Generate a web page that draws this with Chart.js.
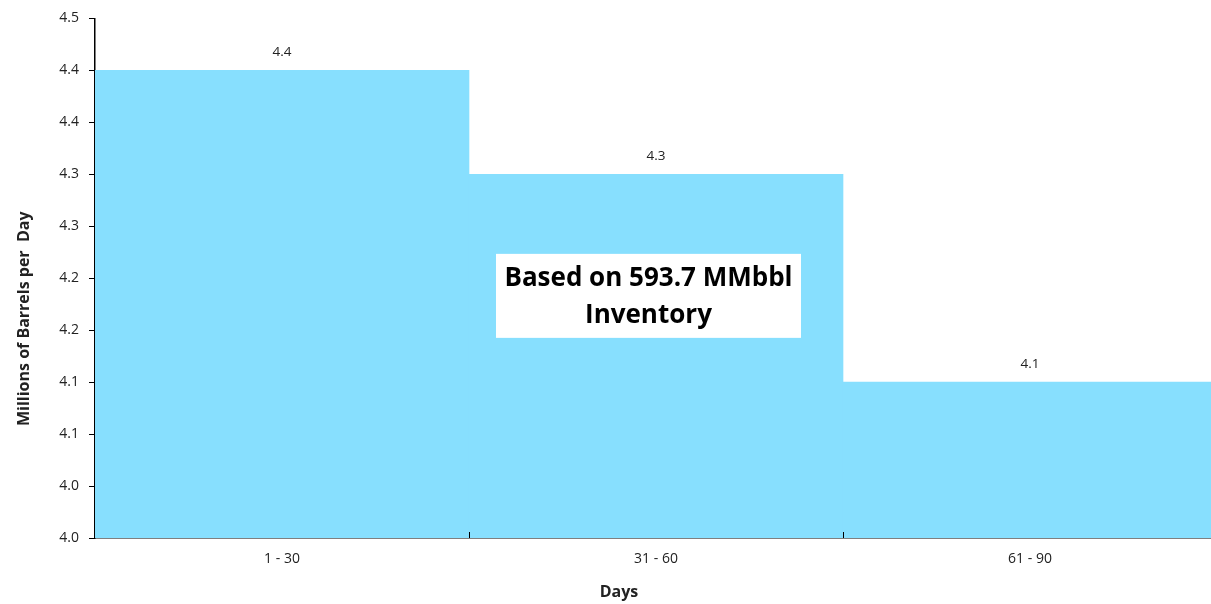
<!DOCTYPE html>
<html>
<head>
<meta charset="utf-8">
<script src="https://cdn.jsdelivr.net/npm/chart.js@4/dist/chart.umd.min.js"></script>
<style>
    html, body { margin: 0; padding: 0; background: #fff; overflow: hidden; }
    /* plot runs a few px past the right edge in the original */
    #wrap { width: 1217px; height: 604px; position: relative; }
</style>
</head>
<body>
<div id="wrap"><canvas id="daysChart"></canvas></div>
<script>
const categories = ['1 - 30', '31 - 60', '61 - 90'];
const barrelsPerDay = [4.45, 4.35, 4.15];
const valueLabels = ['4.4', '4.3', '4.1'];
const yTickLabels = ['4.0', '4.0', '4.1', '4.1', '4.2', '4.2', '4.3', '4.3', '4.4', '4.4', '4.5'];
const noteLines = ['Based on 593.7 MMbbl', 'Inventory'];
const yTitle = 'Millions of Barrels per  Day';
const xTitle = 'Days';

const fontFamily = '"Open Sans", "Noto Sans", sans-serif';
const textColor = '#222';

// value labels above each bar + inward tick marks on the x axis
const barExtras = {
    id: 'barExtras',
    afterDatasetsDraw(chart) {
        const ctx = chart.ctx;
        const meta = chart.getDatasetMeta(0);
        ctx.save();
        ctx.fillStyle = textColor;
        ctx.font = '13.5px ' + fontFamily;
        ctx.textAlign = 'center';
        ctx.textBaseline = 'bottom';
        meta.data.forEach((bar, i) => {
            ctx.fillText(valueLabels[i], bar.x, bar.y - 11);
        });

        const xs = chart.scales.x;
        const bottom = chart.chartArea.bottom;
        const half = (xs.getPixelForValue(1) - xs.getPixelForValue(0)) / 2;
        ctx.strokeStyle = '#000';
        ctx.lineWidth = 1;
        ctx.beginPath();
        for (let i = 1; i < categories.length; i++) {
            const x = Math.round(xs.getPixelForValue(i) - half) + 0.5;
            ctx.moveTo(x, bottom);
            ctx.lineTo(x, bottom - 6);
        }
        ctx.stroke();
        ctx.restore();
    }
};

// white note box + axis titles (placed off-centre like the original)
const noteBox = {
    id: 'noteBox',
    afterDraw(chart) {
        const ctx = chart.ctx;
        const area = chart.chartArea;
        const aw = area.right - area.left;
        const ah = area.bottom - area.top;
        const cx = area.left + aw * 0.4933;
        const cy = area.top + ah * 0.534;
        const w = 305, h = 84;
        ctx.save();
        ctx.fillStyle = '#fff';
        ctx.fillRect(cx - w / 2, cy - h / 2, w, h);
        ctx.fillStyle = '#000';
        ctx.font = 'bold 26px ' + fontFamily;
        ctx.textAlign = 'center';
        ctx.textBaseline = 'middle';
        ctx.fillText(noteLines[0], cx, cy - 17);
        ctx.fillText(noteLines[1], cx, cy + 20);
        ctx.restore();

        ctx.save();
        ctx.fillStyle = textColor;
        ctx.font = 'bold 16px ' + fontFamily;
        ctx.textAlign = 'center';
        ctx.textBaseline = 'middle';
        ctx.fillText(xTitle, area.left + aw * 0.4670, area.bottom + 54);
        ctx.translate(24, area.top + ah * 0.578);
        ctx.rotate(-Math.PI / 2);
        ctx.fillText(yTitle, 0, 0);
        ctx.restore();
    }
};

const ctx = document.getElementById('daysChart').getContext('2d');
const daysChart = new Chart(ctx, {
    type: 'bar',
    data: {
        labels: categories,
        datasets: [{
            data: barrelsPerDay,
            backgroundColor: '#87dffe',
            borderWidth: 0,
            barPercentage: 1,
            categoryPercentage: 1
        }]
    },
    options: {
        responsive: true,
        maintainAspectRatio: false,
        animation: false,
        layout: {
            padding: { top: 16, right: 0, bottom: 0, left: 0 }
        },
        plugins: {
            legend: { display: false },
            tooltip: { enabled: false }
        },
        scales: {
            x: {
                afterFit(scale) { scale.height = 66; },
                grid: {
                    display: true,
                    drawOnChartArea: false,
                    drawTicks: false,
                    offset: true
                },
                border: { display: true, color: '#000', width: 1.5 },
                ticks: {
                    color: textColor,
                    padding: 13,
                    font: { family: fontFamily, size: 14 }
                }
            },
            y: {
                min: 4.0,
                max: 4.5,
                afterFit(scale) { scale.width = 95; },
                afterBuildTicks(scale) {
                    scale.ticks = yTickLabels.map((t, i) => ({ value: 4.0 + i * 0.05 }));
                },
                grid: {
                    drawOnChartArea: false,
                    drawTicks: true,
                    tickLength: 6,
                    color: '#000'
                },
                border: { display: true, color: '#000', width: 1.5 },
                ticks: {
                    color: textColor,
                    padding: 10,
                    font: { family: fontFamily, size: 14 },
                    callback: (v, i) => yTickLabels[i]
                }
            }
        }
    },
    plugins: [barExtras, noteBox]
});
</script>
</body>
</html>
